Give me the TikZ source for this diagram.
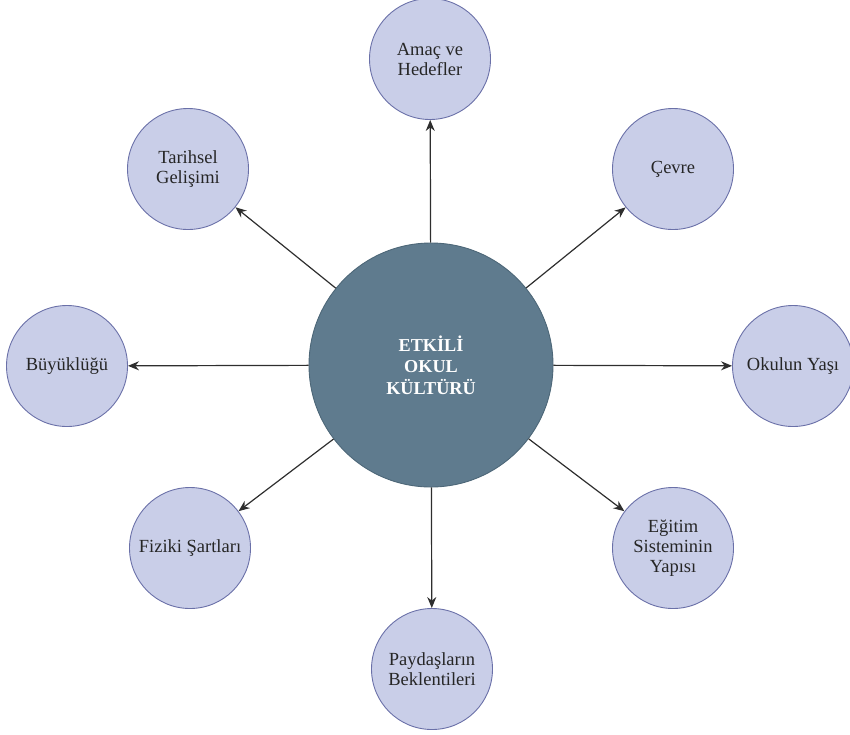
\documentclass[tikz,border=0pt]{standalone}
\usepackage{fontspec}
\setmainfont{Liberation Serif}
\usepackage{tikz}
\usetikzlibrary{
  arrows.meta
}
\definecolor{DisRenk}{HTML}{C9CEE8}
\definecolor{DisCizgi}{HTML}{6A70A8}
\definecolor{MerkezRenk}{HTML}{5F7B8E}
\definecolor{MerkezCizgi}{HTML}{4D6778}
\definecolor{OkRenk}{HTML}{2E2E2E}

\begin{document}
\begin{tikzpicture}[x=1pt, y=-1pt,
    etken/.style={draw=DisCizgi, fill=DisRenk, circle, line width=0.9pt,
      minimum size=121pt, inner sep=1pt, align=center,
      font=\fontsize{18.5}{20}\selectfont, text=black!85},
    merkez/.style={draw=MerkezCizgi, fill=MerkezRenk, circle, line width=0.9pt,
      minimum size=244pt, align=center,
      font=\fontsize{18.2}{21.5}\selectfont\bfseries, text=white},
    ok/.style={draw=OkRenk, line width=1.2pt, -{Stealth[length=11pt,width=9pt]}}
  ]
      \useasboundingbox (0,0) rectangle (850,734);

      \node [merkez] (Merkez) at (431, 365) {ETKİLİ\\OKUL\\KÜLTÜRÜ};

      \node [etken] (Amac) at (430, 59) {Amaç ve\\Hedefler};
      \node [etken] (Cevre) at (673, 169) {Çevre};
      \node [etken] (Yas) at (793, 366) {Okulun Yaşı};
      \node [etken] (Egitim) at (673, 548) {Eğitim\\Sisteminin\\Yapısı};
      \node [etken] (Paydas) at (432, 669) {Paydaşların\\Beklentileri};
      \node [etken] (Fiziki) at (190, 548) {Fiziki Şartları};
      \node [etken] (Buyukluk) at (67, 366) {Büyüklüğü};
      \node [etken] (Tarih) at (188, 169) {Tarihsel\\Gelişimi};

      \draw[ok] (Merkez) -- (Amac);
      \draw[ok] (Merkez) -- (Cevre);
      \draw[ok] (Merkez) -- (Yas);
      \draw[ok] (Merkez) -- (Egitim);
      \draw[ok] (Merkez) -- (Paydas);
      \draw[ok] (Merkez) -- (Fiziki);
      \draw[ok] (Merkez) -- (Buyukluk);
      \draw[ok] (Merkez) -- (Tarih);

    \end{tikzpicture}
\end{document}
